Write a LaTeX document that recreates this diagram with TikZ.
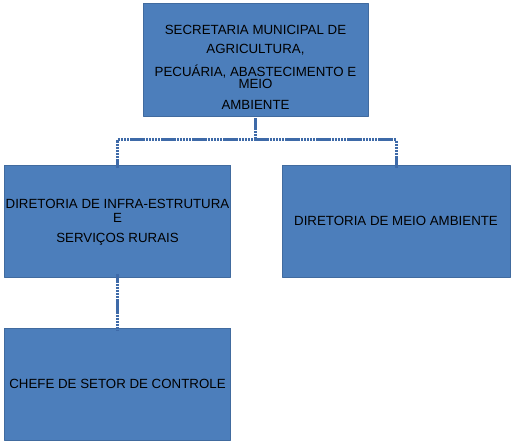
\documentclass[tikz,border=0pt]{standalone}
\usepackage{fontspec}
\setmainfont{Liberation Sans}
\definecolor{caixa}{RGB}{76,126,187}
\definecolor{linha}{RGB}{62,106,168}
\tikzset{
  caixa/.style={draw=caixa!85!black, line width=0.4pt, fill=caixa, align=center,
    minimum width=226, minimum height=112, inner sep=1pt,
    font=\fontsize{13.3}{13}\selectfont},
  ligacao/.style={draw=linha, line width=3pt, dash pattern=on 2.5pt off 0.6pt}
}
\begin{document}
\begin{tikzpicture}[x=1pt,y=-1pt,line join=round]
  \useasboundingbox (0,0) rectangle (513,443);
  % caixas
  \node[caixa, minimum width=225, minimum height=113] (sec) at (255.5,59.5)
    {\rule{0pt}{25pt}SECRETARIA MUNICIPAL DE\\[6pt]AGRICULTURA,\\[8pt]PECUÁRIA, ABASTECIMENTO E\\[-1pt]MEIO\\[8pt]AMBIENTE};
  \node[caixa] (infra) at (117.5,221)
    {\rule{0pt}{11pt}DIRETORIA DE INFRA-ESTRUTURA\\[1pt]E\\[7pt]SERVIÇOS RURAIS};
  \node[caixa, minimum width=228] (meio) at (396,221) {DIRETORIA DE MEIO AMBIENTE};
  \node[caixa] (chefe) at (117.5,384) {CHEFE DE SETOR DE CONTROLE};
  % ligacoes
  \coordinate (juncao) at (255.5,140);
  \draw[ligacao] ([yshift=-2]sec.south) -- (juncao);
  \draw[ligacao] ([yshift=-3]infra.north) |- (juncao) -| ([yshift=-3]meio.north);
  \draw[ligacao] ([yshift=3]infra.south) -- ([yshift=-3]chefe.north);
\end{tikzpicture}
\end{document}
